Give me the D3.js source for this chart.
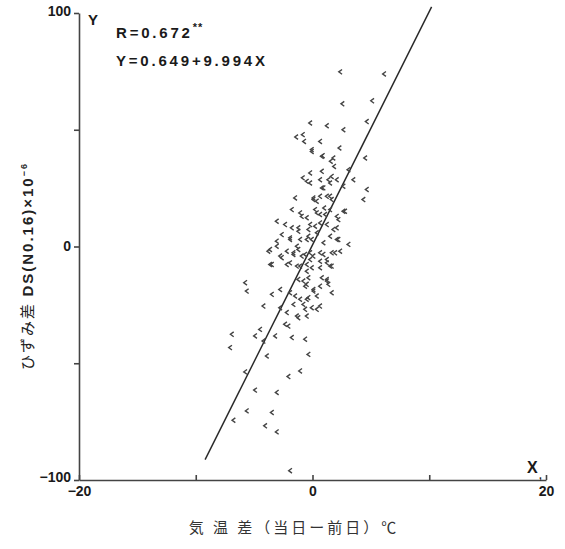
<!doctype html>
<meta charset="utf-8" />
<style>
    body { margin: 0; background: #fff; }
    svg { font-family: "Liberation Sans", Arial, sans-serif; }
</style>
<svg></svg>

<script src="https://cdn.jsdelivr.net/npm/d3@7"></script>

<script>
    // temperature difference (X) vs strain difference (Y)
    var xs = [2.55, -0.21, 1.22, 2.64, 4.64, -1.41, -0.84, -0.73, 0.64, -0.07,
        0.87, 2.30, 4.50, 1.56, 1.84, 3.07, -0.84, -0.50, -0.21, 0.79,
        0.93, 1.35, 1.64, 2.64, 3.49, 4.64, 4.35, -1.50, 0.07, 0.36,
        1.22, 1.64, -1.78, -1.07, 0.21, 0.64, 0.99, 1.50, 2.07, 2.64,
        -3.07, -2.36, -1.78, -0.50, -0.21, 0.21, 0.64, 1.22, 1.78, 2.07,
        -2.64, -1.93, -1.22, -1.07, -0.36, -0.07, 0.36, 1.50, 2.21, 3.07,
        -3.79, -3.07, -2.21, -1.64, -1.22, -0.64, -0.21, 0.07, 0.93, 1.64,
        2.36, -3.64, -2.64, -1.93, -1.35, -0.50, -0.07, 0.64, 1.22, 1.64,
        -1.22, -0.79, -0.50, 1.22, 1.35, -5.78, -5.64, -3.49, -2.78, -1.93,
        -1.50, -1.07, -0.36, 0.07, 0.36, -4.21, -2.78, -2.21, -1.64, -0.79,
        -0.64, -0.07, 0.36, 0.64, -1.35, -0.50, -1.22, -2.36, -2.07, -3.21,
        -4.50, -4.93, -4.21, -6.92, -7.07, -1.78, -0.64, -0.36, -3.92, -1.07,
        -2.07, -5.78, -4.93, -3.07, -5.64, -3.49, -6.78, -4.07, -3.07, -1.93,
        2.36, 6.12, 5.10,
        -0.07, 0.79, 1.78, 0.64, 0.79, 1.50, 2.07, -0.21, 0.07, 0.64,
        1.50, 2.78, -0.93, 0.36, 1.07, 2.21, -1.22, -0.36, 2.07, -3.07,
        -1.93, -1.35, -0.50, 0.93, -3.64, -2.78, -1.64, -0.93, -0.21, 0.64,
        1.22, 1.93, -3.49, -2.21, -1.07, -0.50, 0.64, 1.50, -0.36, 0.79,
        -0.64, 0.64, 1.22, 0.07, 1.64, -0.50];
    var ys = [61.1, 52.9, 51.7, 50.0, 53.5, 46.9, 47.9, 45.0, 45.0, 41.5,
        38.9, 42.2, 37.9, 36.5, 34.3, 32.9, 29.4, 27.9, 31.5, 32.2,
        25.1, 28.6, 30.0, 25.8, 28.6, 24.4, 20.1, 20.8, 20.8, 19.4,
        21.5, 20.1, 15.8, 14.4, 15.8, 13.7, 16.5, 15.8, 12.9, 15.1,
        10.8, 9.4, 8.0, 12.3, 9.4, 8.7, 10.1, 9.4, 7.3, 8.0,
        5.1, 3.0, 6.5, 3.0, 4.4, 3.0, 5.9, 4.4, 3.0, 0.9,
        -2.0, 0.1, -2.0, -3.4, -1.3, -3.4, -2.7, -4.1, -3.4, -2.7,
        -2.0, -7.7, -4.8, -7.0, -8.4, -7.7, -9.1, -6.3, -7.0, -8.4,
        -14.1, -14.8, -16.2, -14.1, -16.2, -15.5, -19.1, -20.5, -18.4, -19.8,
        -21.2, -22.6, -21.9, -19.1, -21.2, -25.5, -26.2, -28.3, -24.8, -24.8,
        -26.9, -26.2, -26.9, -25.5, -29.8, -29.8, -30.5, -33.3, -34.1, -38.3,
        -35.5, -38.3, -40.5, -37.6, -43.3, -39.0, -39.7, -46.2, -46.9, -53.3,
        -55.7, -53.7, -61.5, -62.5, -70.4, -71.1, -74.4, -76.8, -79.4, -96.0,
        74.8, 73.9, 62.4,
        40.7, 38.6, 37.9, 28.6, 25.1, 27.2, 28.6, 27.2, 20.1, 21.5,
        21.5, 15.1, 12.9, 14.4, 13.7, 11.5, 8.0, 7.3, 3.0, 2.3,
        3.7, 0.1, 3.0, 1.6, -1.3, -4.1, -2.7, -4.1, -5.6, -2.7,
        -5.6, -2.7, -7.7, -7.7, -8.4, -10.6, -9.1, -8.4, -13.4, -13.4,
        -17.0, -17.0, -14.8, -18.4, -19.8, -22.6];

    // regression Y = 0.649 + 9.994 X, drawn between these X values
    var fitA = 0.649, fitB = 9.994;
    var fitRange = [-9.2, 10.2];

    var xTicks = [-20, -10, 0, 10, 20];
    var xLabels = [-20, 0, 20];
    var yTicks = [-100, -50, 0, 50, 100];
    var yLabels = [-100, 0, 100];

    var svg = d3.select('svg')
        .attr('width', 565)
        .attr('height', 549)

    var x = d3.scaleLinear().domain([-20, 20]).range([79, 546]);
    var y = d3.scaleLinear().domain([-100, 100]).range([480, 13]);

    function fmt(labels) {
        return function (d) {
            if (labels.indexOf(d) < 0) return '';
            return d < 0 ? '\u2212' + (-d) : d;
        };
    }

    // axes
    var xAxis = d3.axisBottom(x)
        .tickValues(xTicks)
        .tickSizeInner(-5)
        .tickSizeOuter(0)
        .tickPadding(6)
        .tickFormat(fmt(xLabels));

    var yAxis = d3.axisLeft(y)
        .tickValues(yTicks)
        .tickSizeInner(5)
        .tickSizeOuter(0)
        .tickPadding(3)
        .tickFormat(fmt(yLabels));

    var gx = svg.append('g')
        .attr('transform', 'translate(0,' + y(-100) + ')')
        .call(xAxis);
    var gy = svg.append('g')
        .attr('transform', 'translate(' + x(-20) + ',0)')
        .call(yAxis);

    [gx, gy].forEach(function (g) {
        g.selectAll('path, line').attr('stroke', '#444').attr('stroke-width', 1.6);
        g.selectAll('text')
            .attr('fill', '#1a1a1a')
            .style('font-size', '14px')
            .style('font-weight', 'bold');
    });
    gy.selectAll('text').filter(function (d) { return d === -100; }).attr('dy', '0.1em');
    gy.selectAll('text').filter(function (d) { return d === 100; }).attr('dy', '0.2em');

    // axis letters
    svg.append('text')
        .attr('x', 88).attr('y', 25)
        .attr('fill', '#1a1a1a')
        .style('font-size', '15px').style('font-weight', 'bold')
        .text('Y');
    svg.append('text')
        .attr('x', 527).attr('y', 473)
        .attr('fill', '#1a1a1a')
        .style('font-size', '16px').style('font-weight', 'bold')
        .text('X');
    svg.append('text')
        .attr('x', 539).attr('y', 479)
        .attr('fill', '#1a1a1a')
        .style('font-size', '10px').style('font-weight', 'bold')
        .text(',');

    // regression line
    var line = d3.line()
        .x(function (d) { return x(d); })
        .y(function (d) { return y(fitA + fitB * d); });

    svg.append('path')
        .datum(fitRange)
        .attr('d', line)
        .attr('fill', 'none')
        .attr('stroke', '#2a2a2a')
        .attr('stroke-width', 1.5);

    // scatter marks: small chevrons
    var pts = xs.map(function (v, i) { return [v, ys[i]]; });
    svg.append('g')
        .selectAll('path')
        .data(pts)
        .join('path')
        .attr('transform', function (d) { return 'translate(' + x(d[0]) + ',' + y(d[1]) + ')'; })
        .attr('d', 'M2,-2.4L-1.3,0L2,2.4')
        .attr('fill', 'none')
        .attr('stroke', '#444')
        .attr('stroke-width', 1.4);

    // statistics text
    var stats = svg.append('g')
        .attr('fill', '#1a1a1a')
        .style('font-size', '15px')
        .style('font-weight', 'bold')
        .style('letter-spacing', '2.8px');
    var r = stats.append('text').attr('x', 116).attr('y', 38);
    r.append('tspan').text('R=0.672');
    r.append('tspan').attr('dy', -7).style('font-size', '11px').style('letter-spacing', '1px').text('**');
    stats.append('text').attr('x', 116).attr('y', 66).text('Y=0.649+9.994X');

    // y axis title
    var yt = svg.append('text')
        .attr('transform', 'translate(33,266) rotate(-90)')
        .attr('text-anchor', 'middle')
        .attr('fill', '#222')
        .style('font-size', '15px')
        .style('letter-spacing', '2px');
    yt.append('tspan')
        .style('font-family', '"Noto Sans CJK JP", sans-serif')
        .text('ひずみ差 ');
    yt.append('tspan').style('font-weight', 'bold').text(' DS(N0.16)\u00d710');
    yt.append('tspan').attr('dy', -6).style('font-size', '9px').style('font-weight', 'bold').text('\u22126');

    // x axis title
    svg.append('text')
        .attr('x', 294).attr('y', 533)
        .attr('text-anchor', 'middle')
        .attr('fill', '#333')
        .style('font-family', '"Noto Sans CJK JP", sans-serif')
        .style('font-size', '15px')
        .style('letter-spacing', '3px')
        .text('気 温 差（当日ー前日）℃');
</script>
